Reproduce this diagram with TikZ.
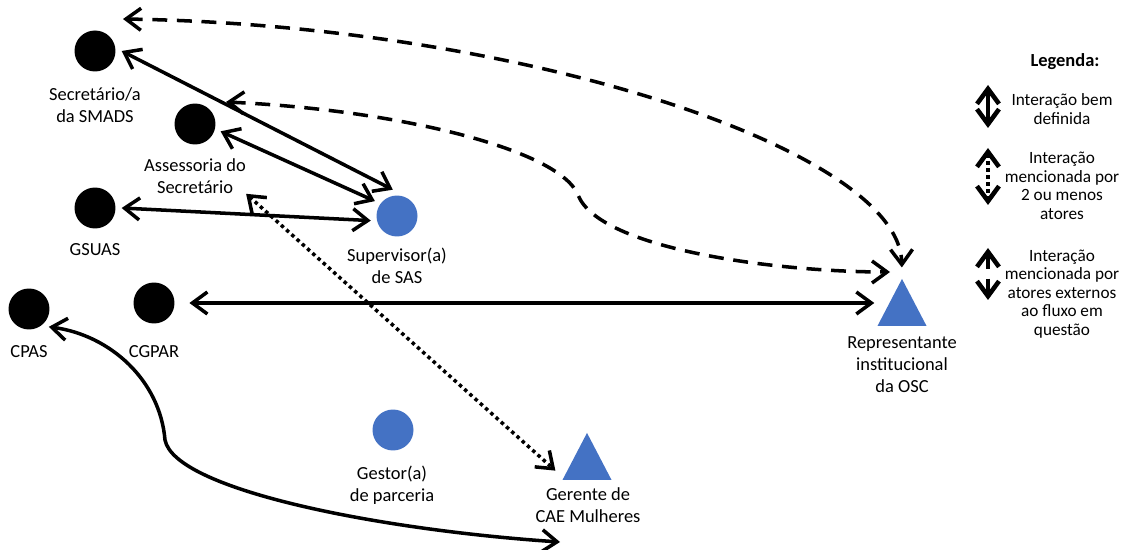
\documentclass[tikz,border=0pt]{standalone}
\usepackage{fontspec}
\setmainfont{Carlito}
\usetikzlibrary{arrows.meta,shapes.geometric}
\definecolor{actorBlue}{HTML}{4472C4}

\begin{document}
\begin{tikzpicture}[x=0.02cm, y=-0.02cm,
    >={Straight Barb[length=3mm, width=4.4mm]},
    every node/.style={font=\fontsize{10.5}{12.5}\selectfont},
    actor/.style={circle, fill=black, minimum size=0.82cm, inner sep=0pt, outer sep=3.5pt},
    sas/.style={actor, fill=actorBlue},
    osc/.style={isosceles triangle, shape border rotate=90, isosceles triangle stretches,
                minimum width=0.98cm, minimum height=0.94cm, inner sep=0pt, fill=actorBlue},
    lbl/.style={align=center, inner sep=0pt},
    legtxt/.style={lbl, font=\fontsize{9.8}{10.6}\selectfont},
    arr/.style={<->, line width=2pt},
    dotarr/.style={arr, dash pattern=on 2pt off 2pt},
    dasharr/.style={arr, dash pattern=on 8.5pt off 5.5pt},
    legarr/.style={line width=2.6pt}]
  \useasboundingbox (0,0) rectangle (1122,550);

  % actors
  \node[actor] (sec)   at (95,51)   {};
  \node[actor] (ass)   at (195,124) {};
  \node[actor] (gsuas) at (95,208)  {};
  \node[sas]   (sup)   at (397,216) {};
  \node[actor] (cpas)  at (29,309)  {};
  \node[actor] (cgpar) at (154,303) {};
  \node[sas]   (ges)   at (393,430) {};
  \node[osc, anchor=apex] (rep) at (902,278) {};
  \node[osc, anchor=apex] (ger) at (587,432) {};

  \node[lbl] (seclbl)   at (95,105)  {Secretário/a\\da SMADS};
  \node[lbl] (asslbl)   at (195,176) {Assessoria do\\Secretário};
  \node[lbl] (gsuaslbl) at (95,250)  {GSUAS};
  \node[lbl] (suplbl)   at (397,266) {Supervisor(a)\\de SAS};
  \node[lbl] (cpaslbl)  at (29,352)  {CPAS};
  \node[lbl] (cgparlbl) at (154,352) {CGPAR};
  \node[lbl] (replbl)   at (902,365) {Representante\\institucional\\da OSC};
  \node[lbl] (geslbl)   at (392,485) {Gestor(a)\\de parceria};
  \node[lbl] (gerlbl)   at (588,505) {Gerente de\\CAE Mulheres};

  % loose ends
  \coordinate (secnear) at (123,19);
  \coordinate (assnear) at (226,102);
  \coordinate (repnear) at ([xshift=-0.24cm, yshift=0.12cm]rep.apex);
  \coordinate (caeend)  at (560,542);

  % interactions
  \draw[arr] (sec.0) -- (sup.99);
  \draw[arr] (ass.-16) -- (sup.146);
  \draw[arr] (gsuas.0) -- (sup.190);
  \draw[arr, shorten <=5pt, shorten >=6pt] (cgpar) -- (cgpar -| rep.west);
  \draw[arr] (cpas.-42) .. controls (110,335) and (160,380) .. (165,440)
             .. controls (175,490) and (380,530) .. (caeend);
  \draw[dotarr, shorten >=6pt] (asslbl.south east) -- (ger.208);
  \draw[dasharr, shorten >=6pt] (secnear) .. controls (520,25) and (900,150) .. (rep.apex);
  \draw[dasharr] (assnear) .. controls (400,110) and (560,150) .. (578,195)
                 .. controls (600,250) and (780,272) .. (repnear);

  % legend
  \node[font=\bfseries\fontsize{10.5}{12}\selectfont] (legtitle) at (1065,62) {Legenda:};
  \node[legtxt] (leg1) at (1062,109) {Interação bem\\definida};
  \node[legtxt] (leg2) at (1062,186) {Interação\\mencionada por\\2 ou menos\\atores};
  \node[legtxt] (leg3) at (1062,294) {Interação\\mencionada por\\atores externos\\ao fluxo em\\questão};
  \coordinate (k1a) at (988,85);  \coordinate (k1b) at (988,128);
  \coordinate (k2a) at (988,148); \coordinate (k2b) at (988,205);
  \coordinate (k3a) at (988,248); \coordinate (k3b) at (988,300);
  \draw[arr, legarr] (k1a) -- (k1b);
  \draw[dotarr, legarr] (k2a) -- (k2b);
  \draw[dasharr, legarr] (k3a) -- (k3b);
\end{tikzpicture}
\end{document}
